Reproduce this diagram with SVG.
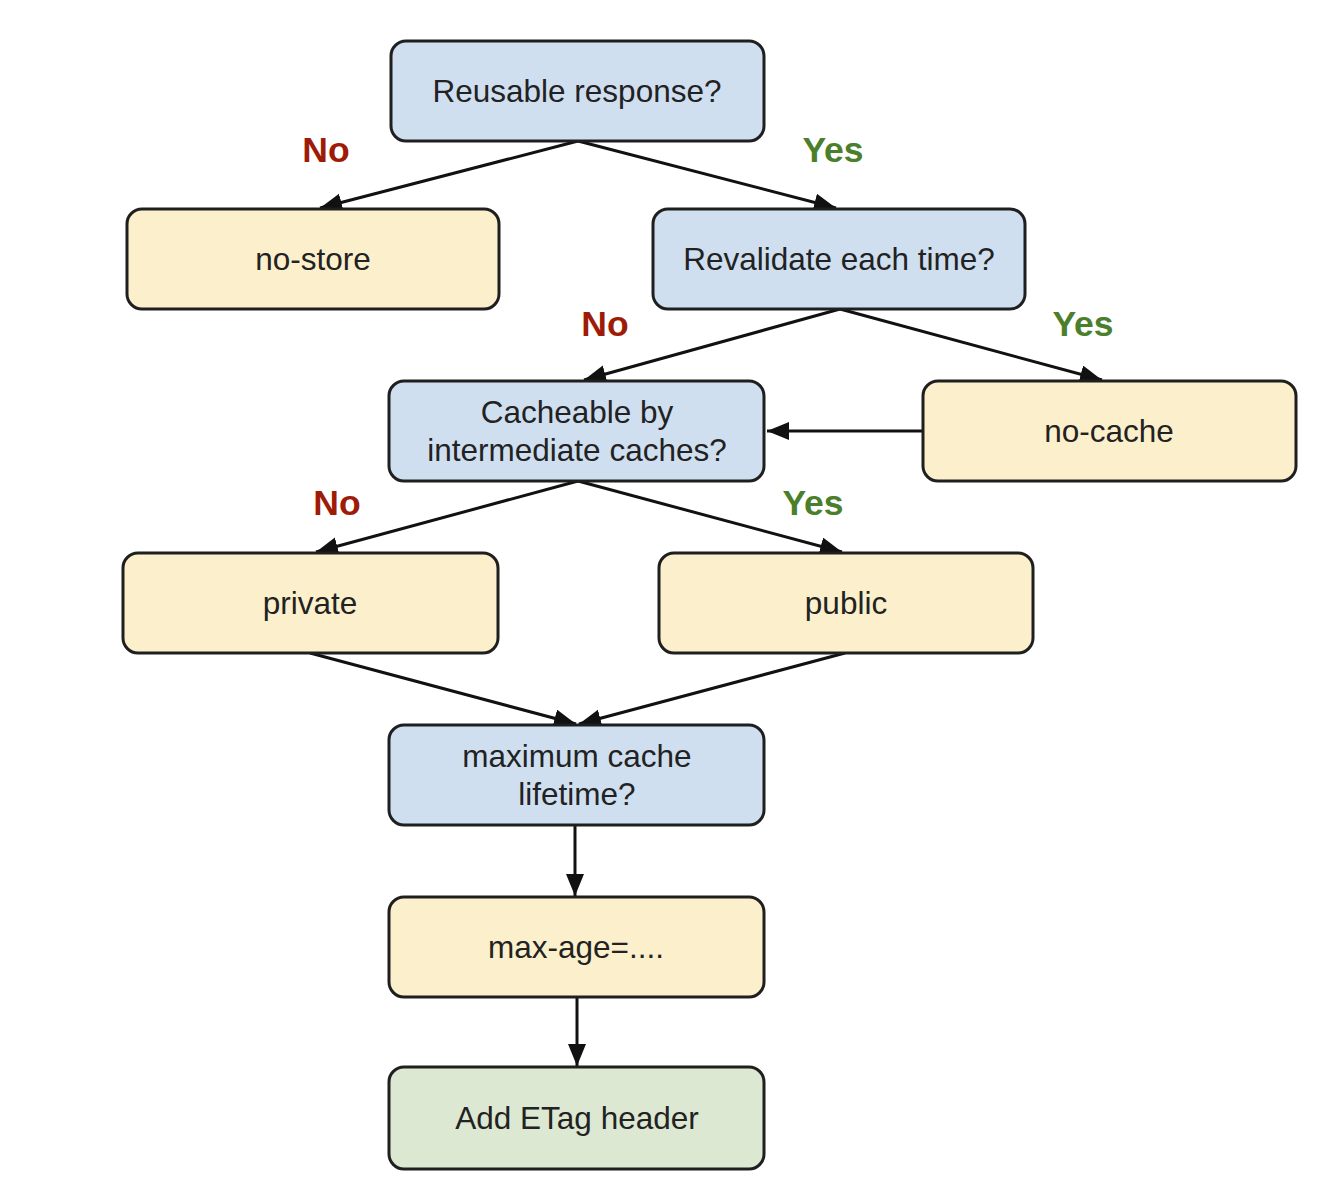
<svg xmlns="http://www.w3.org/2000/svg" width="1340" height="1204" viewBox="0 0 1340 1204">
<style>
.box{stroke:#1f1f1f;stroke-width:3}
.q{fill:#cfdff0}
.a{fill:#fcf0cc}
.g{fill:#dce8d2}
.t{font-family:"Liberation Sans",Arial,sans-serif;font-size:31.5px;fill:#222;text-anchor:middle}
.no{font-family:"Liberation Sans",Arial,sans-serif;font-size:35.5px;font-weight:bold;fill:#9e1b08;text-anchor:middle}
.yes{font-family:"Liberation Sans",Arial,sans-serif;font-size:35.5px;font-weight:bold;fill:#4b7f2c;text-anchor:middle}
.e{stroke:#111;stroke-width:3;fill:none;marker-end:url(#ah)}
</style>
<defs>
<marker id="ah" markerUnits="userSpaceOnUse" markerWidth="24" markerHeight="20" refX="22" refY="9" orient="auto">
<path d="M0,0 L22,9 L0,18 Z" fill="#111"/>
</marker>
</defs>
<rect width="1340" height="1204" fill="#fff"/>
<g id="connectors">
<line class="e" x1="578" y1="141" x2="320" y2="208"/>
<line class="e" x1="578" y1="141" x2="836" y2="208"/>
<line class="e" x1="840" y1="309" x2="584" y2="380"/>
<line class="e" x1="840" y1="309" x2="1102" y2="380"/>
<line class="e" x1="923" y1="431" x2="767" y2="431"/>
<line class="e" x1="578" y1="481" x2="316" y2="552"/>
<line class="e" x1="578" y1="481" x2="842" y2="552"/>
<line class="e" x1="310" y1="653" x2="576" y2="724"/>
<line class="e" x1="845" y1="653" x2="579" y2="724"/>
<line class="e" x1="575" y1="825" x2="575" y2="896"/>
<line class="e" x1="577" y1="997" x2="577" y2="1066"/>
<text class="no" x="326" y="162">No</text>
<text class="yes" x="833" y="162">Yes</text>
<text class="no" x="605" y="336">No</text>
<text class="yes" x="1083" y="336">Yes</text>
<text class="no" x="337" y="515">No</text>
<text class="yes" x="813" y="515">Yes</text>
</g>
<g id="n-reusable"><rect class="box q" x="391" y="41" width="373" height="100" rx="15"/><text class="t" x="577" y="102">Reusable response?</text></g>
<g id="n-nostore"><rect class="box a" x="127" y="209" width="372" height="100" rx="15"/><text class="t" x="313" y="270">no-store</text></g>
<g id="n-revalidate"><rect class="box q" x="653" y="209" width="372" height="100" rx="15"/><text class="t" x="839" y="270">Revalidate each time?</text></g>
<g id="n-cacheable"><rect class="box q" x="389" y="381" width="375" height="100" rx="15"/><text class="t" x="577" y="423">Cacheable by</text><text class="t" x="577" y="461">intermediate caches?</text></g>
<g id="n-nocache"><rect class="box a" x="923" y="381" width="373" height="100" rx="15"/><text class="t" x="1109" y="442">no-cache</text></g>
<g id="n-private"><rect class="box a" x="123" y="553" width="375" height="100" rx="15"/><text class="t" x="310" y="614">private</text></g>
<g id="n-public"><rect class="box a" x="659" y="553" width="374" height="100" rx="15"/><text class="t" x="846" y="614">public</text></g>
<g id="n-maxlifetime"><rect class="box q" x="389" y="725" width="375" height="100" rx="15"/><text class="t" x="577" y="767">maximum cache</text><text class="t" x="577" y="805">lifetime?</text></g>
<g id="n-maxage"><rect class="box a" x="389" y="897" width="375" height="100" rx="15"/><text class="t" x="576" y="958">max-age=....</text></g>
<g id="n-etag"><rect class="box g" x="389" y="1067" width="375" height="102" rx="15"/><text class="t" x="577" y="1129">Add ETag header</text></g>
</svg>
